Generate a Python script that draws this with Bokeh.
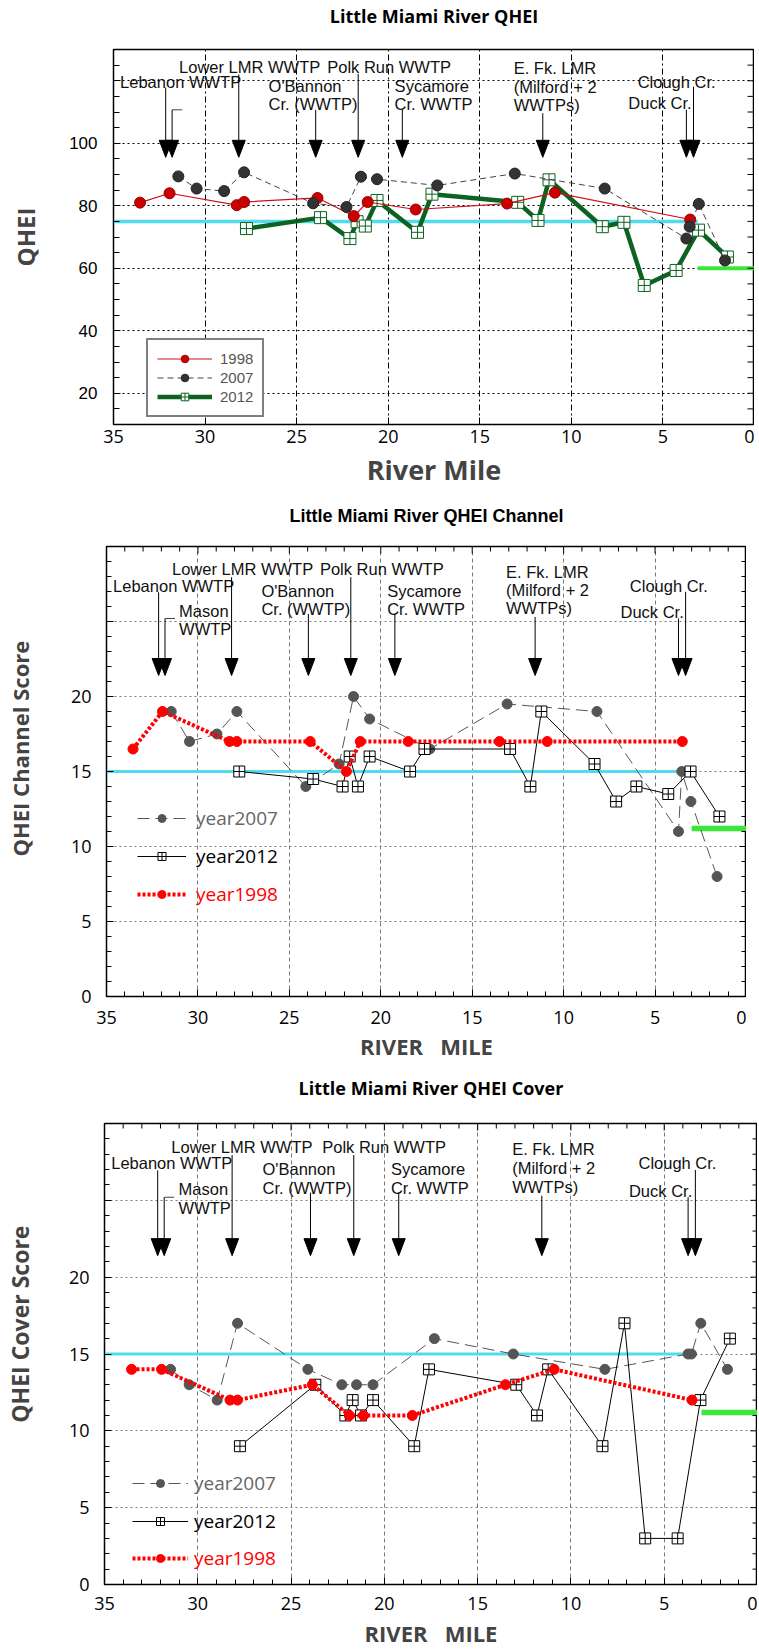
import numpy as np
from bokeh.plotting import figure
from bokeh.models import (FixedTicker, SingleIntervalTicker, Range1d, Legend, LegendItem,
                          LinearAxis)
from bokeh.embed import file_html
from bokeh.resources import INLINE
from bokeh.core.properties import value

# ---------------- data ----------------
mile_1998 = [33.55, 31.94, 28.27, 27.87, 23.86, 21.88, 21.12, 18.50, 13.51, 10.90, 3.51]
qhei_1998 = [81.0, 84.0, 80.2, 81.2, 82.5, 76.7, 81.2, 78.8, 80.7, 84.2, 75.6]
channel_1998 = [16.5, 19, 17, 17, 17, 15, 17, 17, 17, 17, 17]
cover_1998 = [14, 14, 12, 12, 13, 11, 11, 11, 13, 14, 12]

mile_2007 = [31.46, 30.46, 28.96, 27.87, 24.10, 22.28, 21.49, 20.61, 17.32, 13.09, 8.18,
             3.72, 3.54, 3.04, 1.61]
qhei_2007 = [89.4, 85.5, 84.7, 90.7, 80.8, 79.6, 89.3, 88.5, 86.5, 90.3, 85.5,
             69.5, 73.3, 80.6, 62.5]
channel_2007 = [19, 17, 17.5, 19, 14, 15.5, 20, 18.5, 16.5, 19.5, 19, 11, 15, 13, 8]
cover_2007 = [14, 13, 12, 17, 14, 13, 13, 13, 16, 15, 14, 15, 15, 17, 14]

mile_2012 = [27.74, 23.70, 22.09, 21.70, 21.25, 20.61, 18.40, 17.61, 12.93, 11.82, 11.22,
             8.31, 7.13, 6.02, 4.28, 3.06, 1.48]
qhei_2012 = [72.7, 76.2, 69.5, 74.9, 73.5, 81.7, 71.5, 83.7, 81.1, 75.3, 88.3,
             73.3, 74.7, 54.5, 59.3, 72.2, 63.6]
channel_2012 = [15, 14.5, 14, 16, 14, 16, 15, 16.5, 16.5, 14, 19, 15.5, 13, 14, 13.5, 15, 12]
cover_2012 = [9, 13, 11, 12, 11, 12, 9, 14, 13, 11, 14, 9, 17, 3, 3, 12, 16]

# criteria lines (value, mile span)
crit_upper = [75, 15, 15]
crit_upper_span = [(35, 3.1), (35, 3.2), (35, 3.4)]
crit_lower = [60, 11.2, 11.2]
crit_lower_span = [(3.1, 0), (3.0, 0), (3.0, 0)]

# point sources (WWTPs / tributaries)
site_mile = [32.15, 31.8, 28.16, 23.96, 21.64, 19.23, 11.56, 3.72, 3.33]
site_lines = [["Lebanon WWTP"], ["Mason", "WWTP"], ["Lower LMR WWTP"],
              ["O'Bannon", "Cr. (WWTP)"], ["Polk Run WWTP"], ["Sycamore", "Cr. WWTP"],
              ["E. Fk. LMR", "(Milford + 2", "WWTPs)"], ["Duck Cr."], ["Clough Cr."]]

# ---------------- layout of annotations ----------------
label_x = [34.64, 31.03, 31.42, 26.53, 23.33, 19.65, 13.15, 6.89, 6.38]
p1_label_y = [119.7, None, 124.5, 118.4, 124.5, 118.4, 124.0, 112.8, 119.7]
p1_tops = [117.8, 110.7, 122.0, 110.7, 122.2, 110.7, 109.6, 110.7, 118.1]
p23_label_y = [27.4, 25.72, 28.5, 27.05, 28.5, 27.05, 28.33, 25.62, 27.4]
p23_tops = [26.95, 25.2, 27.95, 25.5, 27.95, 25.5, 25.3, 25.2, 26.98]

CYAN = "#52dbef"
LIME = "#3be63b"
LABEL_FONT = "Liberation Sans"
NB = "\u00a0"


def add_title_axis(p, text, font, size, standoff):
    ax = LinearAxis(ticker=FixedTicker(ticks=[], minor_ticks=[]), axis_line_color=None,
                    major_tick_line_color=None, minor_tick_line_color=None,
                    major_label_standoff=0, major_tick_out=0, minor_tick_out=0,
                    axis_label=text, axis_label_text_font=font,
                    axis_label_text_font_size=size, axis_label_text_font_style="bold",
                    axis_label_text_color="black", axis_label_standoff=standoff)
    p.add_layout(ax, "above")


def add_sites(p, label_y, tops, tip, gap, px_x, px_y):
    xs, ys, txt, yoff = [], [], [], []
    for i, lines in enumerate(site_lines):
        if label_y[i] is None:
            continue
        for j, t in enumerate(lines):
            xs.append(label_x[i])
            ys.append(label_y[i])
            txt.append(t)
            yoff.append(j * gap)
    p.text(x=xs, y=ys, text=txt, y_offset=yoff, text_align="left", text_baseline="middle",
           text_font=value(LABEL_FONT), text_font_size="16.5px", text_color="#111111")
    head_h = 17.0 / px_y
    half_w = 6.5 / px_x
    n = len(site_mile)
    p.segment(x0=site_mile, y0=tops, x1=site_mile, y1=[tip + head_h] * n,
              line_color="black", line_width=1)
    p.patches(xs=[[m + half_w, m - half_w, m] for m in site_mile],
              ys=[[tip + head_h, tip + head_h, tip] for _ in site_mile],
              fill_color="black", line_color="black", line_width=1)
    p.segment(x0=[site_mile[1]], y0=[tops[1]], x1=[site_mile[1] - 10.0 / px_x], y1=[tops[1]],
              line_color="#444444", line_width=1)


def mirror_ticks(p, yvals_major, yvals_minor, xvals_major, xvals_minor, px_x, px_y,
                 x_right, y_top, maj=7, mnr=5):
    # inward tick marks on the right (and optionally top) frame edge
    if yvals_major:
        p.segment(x0=[x_right] * len(yvals_major), y0=yvals_major,
                  x1=[x_right + maj / px_x] * len(yvals_major), y1=yvals_major,
                  line_color="black", line_width=1)
    if yvals_minor:
        p.segment(x0=[x_right] * len(yvals_minor), y0=yvals_minor,
                  x1=[x_right + mnr / px_x] * len(yvals_minor), y1=yvals_minor,
                  line_color="black", line_width=1)
    if xvals_major:
        p.segment(x0=xvals_major, y0=[y_top] * len(xvals_major),
                  x1=xvals_major, y1=[y_top - maj / px_y] * len(xvals_major),
                  line_color="black", line_width=1)
    if xvals_minor:
        p.segment(x0=xvals_minor, y0=[y_top] * len(xvals_minor),
                  x1=xvals_minor, y1=[y_top - mnr / px_y] * len(xvals_minor),
                  line_color="black", line_width=1)


def style_common(p, xax, yax, xgrid_dash, ygrid_dash, grid_color):
    p.outline_line_color = "black"
    p.outline_line_width = 1.5
    p.background_fill_color = "white"
    p.border_fill_color = "white"
    p.xgrid.grid_line_color = grid_color
    p.xgrid.grid_line_dash = xgrid_dash
    p.xgrid.grid_line_width = 1
    p.ygrid.grid_line_color = grid_color
    p.ygrid.grid_line_dash = ygrid_dash
    p.ygrid.grid_line_width = 1
    for ax in (xax, yax):
        ax.axis_line_color = "black"
        ax.major_tick_line_color = "black"
        ax.minor_tick_line_color = "black"
        ax.major_tick_out = 0
        ax.minor_tick_out = 0
        ax.major_tick_in = 7
        ax.minor_tick_in = 6
        ax.major_label_text_color = "black"


# =============== Panel 1: QHEI ===============
FW1, FH1 = 641, 375
p1 = figure(frame_width=FW1, frame_height=FH1, x_range=Range1d(35, 0), y_range=Range1d(10, 130),
            output_backend="svg", toolbar_location=None, title_location=None,
            min_border_left=113, min_border_right=0, min_border_top=47, min_border_bottom=75)
xa1, ya1 = p1.below[0], p1.left[0]
add_title_axis(p1, "Little Miami River QHEI", "Open Sans", "18px", 22)

xa1.ticker = SingleIntervalTicker(interval=5, num_minor_ticks=0)
yt1 = FixedTicker(ticks=[20, 40, 60, 80, 100, 120],
                  minor_ticks=[v for v in range(15, 130, 5) if v % 20 != 0])
ya1.ticker = yt1
ya1.major_label_overrides = {120: ""}
style_common(p1, xa1, ya1, "6 3 2 3", "2 3", "black")
xa1.major_label_text_font = "Open Sans"
xa1.major_label_text_font_size = "18px"
xa1.major_label_standoff = 5
ya1.major_label_text_font = "Liberation Sans"
ya1.major_label_text_font_size = "17px"
ya1.major_label_standoff = 16
xa1.axis_label = "River Mile"
xa1.axis_label_text_font = "Open Sans"
xa1.axis_label_text_font_size = "27px"
xa1.axis_label_text_font_style = "bold"
xa1.axis_label_standoff = 5
ya1.axis_label = "QHEI"
ya1.axis_label_text_font = "Open Sans"
ya1.axis_label_text_font_size = "24px"
ya1.axis_label_text_font_style = "bold"
ya1.axis_label_standoff = 24

p1.line([crit_upper_span[0][0], crit_upper_span[0][1]], [crit_upper[0]] * 2,
        line_color=CYAN, line_width=3.5)
p1.line([crit_lower_span[0][0], crit_lower_span[0][1]], [crit_lower[0]] * 2,
        line_color=LIME, line_width=4)

G12 = "#0c6320"
l12 = p1.line(mile_2012, qhei_2012, line_color=G12, line_width=4.5)
s12 = p1.scatter(mile_2012, qhei_2012, marker="square_cross", size=12, fill_color="white",
                 line_color=G12, line_width=1)
l98 = p1.line(mile_1998, qhei_1998, line_color="#d01010", line_width=1.2)
s98 = p1.scatter(mile_1998, qhei_1998, marker="circle", size=11, fill_color="#cc0000",
                 line_color="#990000")
l07 = p1.line(mile_2007, qhei_2007, line_color="#444444", line_width=1, line_dash="6 4")
s07 = p1.scatter(mile_2007, qhei_2007, marker="circle", size=11, fill_color="#333333",
                 line_color="#222222")

add_sites(p1, p1_label_y, p1_tops, 95.5, 18.5, FW1 / 35.0, FH1 / 120.0)
mirror_ticks(p1, [20, 40, 60, 80, 100, 120], [v for v in range(15, 130, 5) if v % 20 != 0],
             [], [], FW1 / 35.0, FH1 / 120.0, 0, 130, 7, 7)

leg1 = Legend(items=[LegendItem(label="1998", renderers=[l98, s98]),
                     LegendItem(label="2007", renderers=[l07, s07]),
                     LegendItem(label="2012", renderers=[l12, s12])],
              location=(33, 7), orientation="vertical",
              border_line_color="black", border_line_width=2.5, background_fill_color="white",
              background_fill_alpha=1, padding=9, spacing=0, margin=0,
              glyph_width=55, glyph_height=19, label_height=19, label_standoff=8,
              label_text_font="Liberation Sans", label_text_font_size="15px",
              label_text_color="#555555")
p1.add_layout(leg1, "center")


# =============== Panels 2 & 3 ===============
def make_lower(title, title_font, title_size, title_standoff, ylab, ylab_size, ylab_standoff,
               vals98, vals07, vals12, idx, fw, fh, mbl, mbt, mbb,
               tick_standoff, xlab_standoff, gap, leg_x, leg_ys, leg_gw, leg_std):
    p = figure(frame_width=fw, frame_height=fh, x_range=Range1d(35, 0), y_range=Range1d(0, 30),
               output_backend="svg", toolbar_location=None, title_location=None,
               min_border_left=mbl, min_border_right=0, min_border_top=mbt, min_border_bottom=mbb)
    xax = p.below[0]
    yax = p.left[0]
    add_title_axis(p, title, title_font, title_size, title_standoff)

    xax.ticker = SingleIntervalTicker(interval=5, num_minor_ticks=5)
    yax.ticker = FixedTicker(ticks=[0, 5, 10, 15, 20, 25],
                             minor_ticks=[v for v in range(0, 31) if v % 5 != 0])
    yax.major_label_overrides = {25: ""}
    style_common(p, xax, yax, "4 3", "2 3", "#7a7a7a")
    for ax in (xax, yax):
        ax.minor_tick_in = 5
    xax.major_label_text_font = "Open Sans"
    xax.major_label_text_font_size = "18px"
    xax.major_label_standoff = tick_standoff
    yax.major_label_text_font = "Open Sans"
    yax.major_label_text_font_size = "18px"
    yax.major_label_standoff = 15
    xax.axis_label = "RIVER " + NB + NB + "MILE"
    xax.axis_label_text_font = "Open Sans"
    xax.axis_label_text_font_size = "22px"
    xax.axis_label_text_font_style = "bold"
    xax.axis_label_standoff = xlab_standoff
    yax.axis_label = ylab
    yax.axis_label_text_font = "Open Sans"
    yax.axis_label_text_font_size = ylab_size
    yax.axis_label_text_font_style = "bold"
    yax.axis_label_standoff = ylab_standoff

    p.line([crit_upper_span[idx][0], crit_upper_span[idx][1]], [crit_upper[idx]] * 2,
           line_color=CYAN, line_width=3)
    p.line([crit_lower_span[idx][0], crit_lower_span[idx][1]], [crit_lower[idx]] * 2,
           line_color=LIME, line_width=5.5)

    a = p.line(mile_2007, vals07, line_color="#555555", line_width=1, line_dash="12 6")
    b = p.scatter(mile_2007, vals07, marker="circle", size=10, fill_color="#555555",
                  line_color="#555555")
    c = p.line(mile_2012, vals12, line_color="black", line_width=1)
    d = p.scatter(mile_2012, vals12, marker="square_cross", size=11, fill_color="white",
                  line_color="black", line_width=1)
    e = p.line(mile_1998, vals98, line_color="#ff0000", line_width=4, line_dash="3 2")
    f = p.scatter(mile_1998, vals98, marker="circle", size=10, fill_color="#ff0000",
                  line_color="#ff0000")

    px_x, px_y = fw / 35.0, fh / 30.0
    add_sites(p, p23_label_y, p23_tops, 21.4, gap, px_x, px_y)
    mirror_ticks(p, [5, 10, 15, 20, 25], [v for v in range(1, 30) if v % 5 != 0],
                 [5, 10, 15, 20, 25, 30], [v for v in range(1, 35) if v % 5 != 0],
                 px_x, px_y, 0, 30, 7, 5)

    for (lab, rends, col, ly) in [("year2007", [a, b], "#666666", leg_ys[0]),
                                  ("year2012", [c, d], "black", leg_ys[1]),
                                  ("year1998", [e, f], "#ff0000", leg_ys[2])]:
        lg = Legend(items=[LegendItem(label=lab, renderers=rends)], location=(leg_x, ly),
                    border_line_alpha=0, background_fill_alpha=0, padding=0, margin=0,
                    glyph_width=leg_gw, glyph_height=20, label_height=20,
                    label_standoff=leg_std, label_text_font="Open Sans",
                    label_text_font_size="19px", label_text_color=col)
        p.add_layout(lg, "center")
    return p


p2 = make_lower("Little Miami River QHEI Channel", "Liberation Sans", "18px", 21,
                NB * 8 + "QHEI Channel Score", "22px", 33,
                channel_1998, channel_2007, channel_2012, 1,
                640, 450, 106, 47, 76, 14, 4, 18.3, 31, (165, 127, 89), 49, 10)
p3 = make_lower("Little Miami River QHEI Cover", "Open Sans", "18px", 24,
                NB * 10 + "QHEI Cover Score", "23px", 30,
                cover_1998, cover_2007, cover_2012, 2,
                653, 461, 100, 49, 71, 12, 5, 19.0, 28, (88, 50, 13), 56, 6)

open("out.html", "w").write(file_html([p1, p2, p3], INLINE))
